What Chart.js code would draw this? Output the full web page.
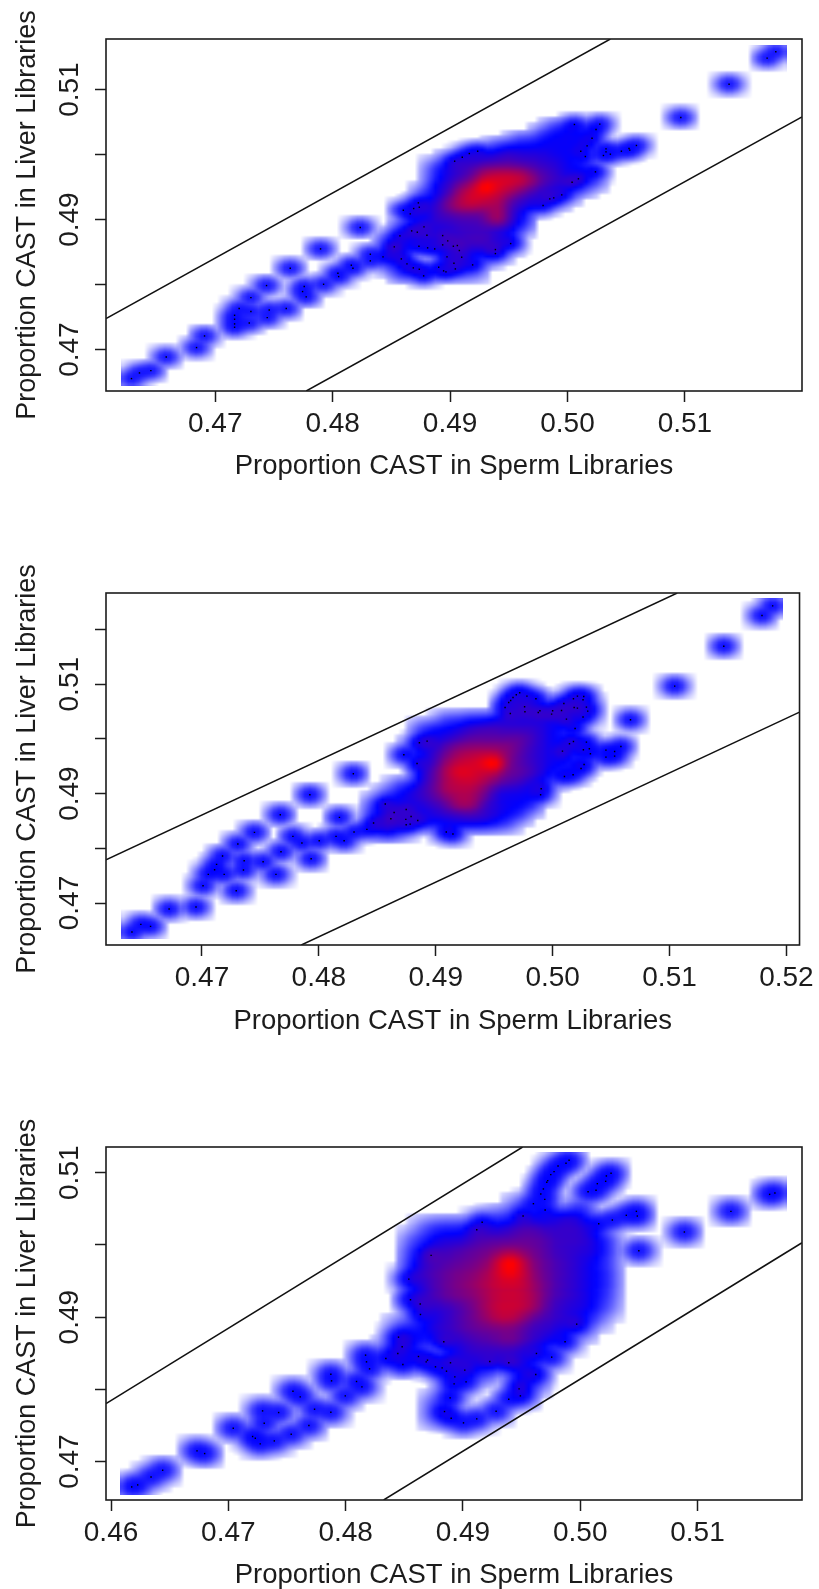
<!DOCTYPE html>
<html>
<head>
<meta charset="utf-8">
<title>Proportion CAST</title>
<script src="https://cdn.jsdelivr.net/npm/chart.js@4"></script>
<style>
html, body { margin: 0; padding: 0; background: #fff; }
#page { position: relative; width: 819px; height: 1589px; overflow: hidden; }
canvas { position: absolute; left: 0; }
</style>
</head>
<body>
<div id="page">
<canvas id="c1" width="819" height="483" style="top:0px"></canvas>
<canvas id="c2" width="819" height="493" style="top:545px"></canvas>
<canvas id="c3" width="819" height="492" style="top:1100px"></canvas>
</div>
<script>
// axis labels
const xTitle = 'Proportion CAST in Sperm Libraries';
const yTitle = 'Proportion CAST in Liver Libraries';

// --- panel 1 ---
const p1XRange = [0.4607, 0.51997];
const p1YRange = [0.46363, 0.51778];
const p1XTicks = [0.47, 0.48, 0.49, 0.50, 0.51];
const p1XLabels = ['0.47', '0.48', '0.49', '0.50', '0.51'];
const p1YTicks = [0.47, 0.48, 0.49, 0.50, 0.51];
const p1YLabels = ['0.47', '', '0.49', '', '0.51'];
const p1Bandwidth = [0.00047, 0.00058];
const p1UpperX = [0.4607, 0.50365];
const p1UpperY = [0.47477, 0.51778];
const p1LowerX = [0.47775, 0.51997];
const p1LowerY = [0.46363, 0.50578];
// the black outlier dots
const p1DotX = [0.46287,0.46355,0.46452,0.46583,0.46841,0.46909,0.47165,0.47165,0.47165,0.47165,0.47204,0.4729,0.47304,0.47304,0.47443,0.4746,0.47605,0.47437,0.47639,0.47897,0.48235,0.47744,0.47758,0.47775,0.47923,0.48045,0.48051,0.48159,0.48173,0.48321,0.48321,0.48429,
  0.48525,0.48573,0.48602,0.48661,0.4869,0.4873,0.48738,0.48673,0.48721,0.48778,0.48803,0.48585,0.48633,0.48687,0.48738,0.48775,0.48735,0.48809,0.48869,0.48937,0.48937,0.4898,0.49028,0.49062,0.49079,0.49099,0.48974,0.49033,0.49045,0.48903,0.48945,0.48965,0.49192,0.49386,0.49386,0.49516,
  0.49039,0.49104,0.49164,0.49235,0.49792,0.49849,0.49883,0.49951,0.50039,0.50093,0.50238,0.50113,0.50152,0.50167,0.50209,0.50243,0.50275,0.50059,0.50306,0.50328,0.50328,0.50365,0.50459,0.50524,0.5053,0.50587,0.50965,0.51376,0.517,0.51774];
const p1DotY = [0.46554,0.46641,0.46677,0.46887,0.47031,0.4721,0.47344,0.47395,0.47467,0.47528,0.47631,0.4741,0.47585,0.478,0.47492,0.4761,0.47631,0.47985,0.48252,0.48549,0.48878,0.47893,0.4797,0.47811,0.48005,0.48175,0.48123,0.48298,0.48252,0.48467,0.48365,0.48426,
  0.4858,0.48749,0.49144,0.49088,0.4917,0.49257,0.4919,0.48826,0.48806,0.48888,0.4876,0.48395,0.48318,0.48257,0.48236,0.48134,0.4859,0.48565,0.48549,0.48754,0.48611,0.48672,0.4859,0.48601,0.48524,0.48421,0.48426,0.48329,0.48241,0.48267,0.48211,0.48195,0.48303,0.48539,0.48477,0.48631,
  0.49898,0.4996,0.50016,0.50052,0.49216,0.49319,0.49334,0.4938,0.49575,0.49627,0.49734,0.50052,0.4997,0.50134,0.50252,0.50386,0.50468,0.50463,0.49986,0.50088,0.50042,0.50006,0.50052,0.50093,0.50068,0.5014,0.50571,0.51083,0.51484,0.51581];
// counts in the dense core (rows from top)
const p1BinX = [0.485,0.486,0.487,0.488,0.489,0.490,0.491,0.492,0.493,0.494,0.495,0.496,0.497,0.498,0.499,0.500,0.501,0.502,0.503];
const p1BinY = [0.504,0.503,0.502,0.501,0.500,0.499,0.498,0.497,0.496,0.495,0.494,0.493,0.492,0.491,0.490,0.489,0.488,0.487,0.486,0.485,0.484,0.483,0.482];
const p1Counts = [
  [0,0,0,0,0,0,0,0,0,0,0,0,0,0,.5,1,.5,.5,0],
  [0,0,0,0,0,0,0,0,0,0,0,0,0,.5,1,1,1,.5,0],
  [0,0,0,0,0,0,0,0,0,0,0,.5,.5,1,1,1,1,.5,0],
  [0,0,0,0,0,0,0,0,0,.5,1,1,1,1,1,1,.5,0,0],
  [0,0,0,0,0,0,0,.7,1,1.5,2,1.5,1.5,1.5,1,1,.5,0,0],
  [0,0,0,0,0,.5,1,1.5,2,2,2.5,2,2,1.5,1.5,1,.5,0,0],
  [0,0,0,0,.5,1.5,2,2.5,3,3.5,3.5,3,2.5,2,1.5,1,1,.5,0],
  [0,0,0,0,.7,1.5,2,3,8,9,9,8,4,2.5,2,1,1,.5,0],
  [0,0,0,0,.7,1.5,2.5,4,10,11,11,10,6,2.5,2,1.5,1,.7,0],
  [0,0,0,0,1.5,2,5,8,22,11,9,6,3,2,1.5,1,.7,0,0],
  [0,0,0,.5,1,2,7,11,11,9,6,3,2,1.5,.7,.5,0,0,0],
  [0,0,0,.7,1.5,4,8,11,9,8,3,2,1.5,1,.5,0,0,0,0],
  [0,0,.5,1,2,5,8,8,6,7,2.5,1.5,1,0,0,0,0,0,0],
  [0,0,.7,1,2,2.5,3,3,3.5,8,2,1,0,0,0,0,0,0,0],
  [0,0,.7,1,2,2,2.5,2.5,3,8,2,1,0,0,0,0,0,0,0],
  [0,.5,1,1,1.5,1.5,2,2,2.5,2,1.5,.5,0,0,0,0,0,0,0],
  [0,.7,1,1,1,1.5,2,2,2,1.5,1,0,0,0,0,0,0,0,0],
  [.7,1,1,1,1,1.5,2,2.5,2.5,1.5,1,0,0,0,0,0,0,0,0],
  [1.5,1,.5,.5,1,1,1.5,2,2,1.5,.5,0,0,0,0,0,0,0,0],
  [1.5,1,0,0,0,1,1,1,1,.7,0,0,0,0,0,0,0,0,0],
  [1,.5,0,0,0,1,1,.5,.5,0,0,0,0,0,0,0,0,0,0],
  [.5,.7,0,0,0,1,1,.5,0,0,0,0,0,0,0,0,0,0,0],
  [0,1,1,1,.5,.5,.5,.3,0,0,0,0,0,0,0,0,0,0,0]
];

// --- panel 2 ---
const p2XRange = [0.46179, 0.52112];
const p2YRange = [0.46233, 0.52667];
const p2XTicks = [0.47, 0.48, 0.49, 0.50, 0.51, 0.52];
const p2XLabels = ['0.47', '0.48', '0.49', '0.50', '0.51', '0.52'];
const p2YTicks = [0.47, 0.48, 0.49, 0.50, 0.51, 0.52];
const p2YLabels = ['0.47', '', '0.49', '', '0.51', ''];
const p2Bandwidth = [0.00047, 0.00074];
const p2UpperX = [0.46179, 0.51066];
const p2UpperY = [0.47791, 0.52667];
const p2LowerX = [0.4785, 0.52112];
const p2LowerY = [0.46233, 0.50489];
const p2DotX = [0.46401,0.46477,0.4656,0.46719,0.46949,0.47009,0.47054,0.47108,0.47125,0.47176,0.4719,0.47293,0.47307,0.47355,0.47361,0.47449,0.47523,0.47633,0.47676,0.4767,0.47778,0.47855,0.47923,0.47934,0.48003,0.48147,0.48176,0.48216,0.48295,0.48301,0.48411,0.48468,0.48568,0.48616,0.48644,0.48727,0.48747,0.48744,0.48789,0.48747,0.48781,0.48846,0.4884,0.4886,0.48926,0.4909,
  0.49147,0.49593,0.49624,0.49641,0.49661,0.49689,0.49718,0.4978,0.49857,0.49638,0.4976,0.49763,0.49877,0.49891,0.49991,0.5,0.50076,0.50096,0.50178,0.50212,0.50266,0.5026,0.50184,0.50212,0.50289,0.503,0.5026,0.50118,0.50192,0.50144,0.50178,0.50289,0.50084,0.50263,0.50314,0.50323,0.50269,0.50243,0.50175,0.50101,0.49902,0.49897,0.50456,0.5053,0.50584,0.50456,0.5053,0.50666,0.51044,0.51464,0.51791,0.51882];
const p2DotY = [0.4647,0.4661,0.46574,0.4689,0.46927,0.47317,0.47524,0.47609,0.47706,0.47859,0.47524,0.47225,0.48078,0.47603,0.47773,0.48291,0.47755,0.47524,0.47938,0.48614,0.48218,0.48096,0.48979,0.4781,0.48139,0.48218,0.48565,0.48139,0.49363,0.48297,0.48346,0.48462,0.48809,0.48541,0.48656,0.4971,0.48711,0.48529,0.48583,0.48431,0.48443,0.4851,0.49552,0.49929,0.4996,0.48297,
  0.48261,0.50575,0.50666,0.50703,0.50758,0.50806,0.50843,0.50782,0.50733,0.50465,0.50587,0.50496,0.50483,0.50514,0.50453,0.50514,0.5052,0.50648,0.50733,0.50782,0.50776,0.50715,0.50575,0.50563,0.50581,0.50508,0.504,0.50362,0.50191,0.49911,0.49954,0.49941,0.49777,0.49801,0.4982,0.49728,0.49533,0.4946,0.49345,0.49314,0.49089,0.48979,0.49795,0.49771,0.49862,0.49667,0.49686,0.5035,0.50965,0.51695,0.52256,0.52432];
const p2BinX = [0.485,0.486,0.487,0.488,0.489,0.490,0.491,0.492,0.493,0.494,0.495,0.496,0.497,0.498,0.499,0.500,0.501,0.502,0.503];
const p2BinY = [0.5075,0.506,0.5045,0.503,0.5015,0.500,0.4985,0.497,0.4955,0.494,0.4925,0.491,0.4895,0.488,0.4865,0.485,0.4835];
const p2Counts = [
  [0,0,0,0,0,0,0,0,0,0,0,0,.5,.5,0,0,0,.5,0],
  [0,0,0,0,0,0,0,0,0,0,0,.3,1,1,.5,.5,1,1,.3],
  [0,0,0,0,0,0,0,0,0,0,0,1,1,1,1,1,1,.7,.3],
  [0,0,0,0,0,0,.5,.5,1,1,1.5,1.5,1.5,1.5,1.5,1,1,.5,0],
  [0,0,0,0,.5,1,1,1.5,2,2.5,2.5,2,2,2,1.5,1,.5,0,0],
  [0,0,0,0,.7,1,1.5,2,3,3,3,3,3.5,2.5,1.5,1,.5,.5,0],
  [0,0,0,.3,1,1.5,3,4.5,5,5,5,5,3.5,2,1.5,1,.5,.5,0],
  [0,0,0,.3,1,2,4,7,8,9,9,5,3,2,1.5,1,1,.5,0],
  [0,0,0,0,1,2,6,9,10,12,22,4,3,2,1.5,1,1,.5,0],
  [0,0,0,0,1.5,3,8,13,11,9,8,3.5,3.5,2.5,1.5,.7,.3,0,0],
  [0,0,0,0,1.5,3,7,9,10,8,5,3,2.5,1.5,1,.3,0,0,0],
  [0,0,.5,1,2,3.5,8,8,8,5,2,1.5,1.5,1,.5,0,0,0,0],
  [0,.5,1,1.5,2,3,5,7,7,4,1.5,1,1,1,0,0,0,0,0],
  [.5,1,1,1,1.5,2,3,7,7,2,1.5,1,1,.7,0,0,0,0,0],
  [1,1,1,1,1,1.5,2,2,2.5,2,1.5,1,.7,0,0,0,0,0,0],
  [1,1.5,1,.5,1,1,1,1.5,1.5,1.5,1,.5,0,0,0,0,0,0,0],
  [1,2,.5,0,0,0,.5,0,0,0,0,0,0,0,0,0,0,0,0]
];

// --- panel 3 ---
const p3XRange = [0.45957, 0.51891];
const p3YRange = [0.46468, 0.51356];
const p3XTicks = [0.46, 0.47, 0.48, 0.49, 0.50, 0.51];
const p3XLabels = ['0.46', '0.47', '0.48', '0.49', '0.50', '0.51'];
const p3YTicks = [0.47, 0.48, 0.49, 0.50, 0.51];
const p3YLabels = ['0.47', '', '0.49', '', '0.51'];
const p3Bandwidth = [0.00054, 0.00066];
const p3UpperX = [0.45957, 0.49509];
const p3UpperY = [0.47804, 0.51356];
const p3LowerX = [0.48324, 0.51891];
const p3LowerY = [0.46468, 0.5003];
const p3DotX = [0.46176,0.46227,0.46341,0.4644,0.46733,0.46798,0.47042,0.47207,0.4723,0.47272,0.47392,0.47292,0.47306,0.47429,0.47536,0.47551,0.47613,0.47687,0.47735,0.47874,0.4788,0.47874,0.47997,0.48093,0.48139,0.4817,0.48178,0.48204,0.48343,0.48445,0.48451,0.48482,0.48488,0.48539,0.48553,0.48636,0.48638,0.48729,0.48621,0.48687,0.48698,0.48766,0.48823,0.4886,0.48837,0.48843,
  0.49016,0.49027,0.48894,0.48931,0.48925,0.48891,0.489,0.49005,0.49118,0.49283,0.49391,0.4949,0.49479,0.49621,0.49627,0.49757,0.49871,0.4997,0.49229,0.49391,0.49513,0.49601,0.49701,0.49698,0.49664,0.49686,0.49723,0.49715,0.49749,0.49777,0.49811,0.49879,0.49905,0.50067,0.50135,0.50146,0.50217,0.50223,0.50263,0.50158,0.50274,0.50393,0.50479,0.50487,0.505,0.50888,0.51285,0.51615,0.5166,0.49164,0.49118];
const p3DotY = [0.46649,0.46677,0.46787,0.4688,0.47148,0.47111,0.47462,0.47347,0.47323,0.47245,0.47286,0.47702,0.47531,0.47679,0.47379,0.47975,0.47896,0.47499,0.47725,0.4821,0.48118,0.47684,0.4791,0.48109,0.48035,0.48474,0.48381,0.48284,0.48428,0.48497,0.48723,0.48589,0.48344,0.49527,0.49241,0.49181,0.49037,0.49855,0.48455,0.48381,0.48404,0.48312,0.48298,0.48252,0.48659,0.47693,
  0.48266,0.48104,0.48368,0.48173,0.48076,0.47882,0.47601,0.47536,0.47591,0.47698,0.47864,0.4791,0.48007,0.48206,0.48497,0.48446,0.48659,0.48903,0.48386,0.48368,0.504,0.50571,0.50483,0.50631,0.50705,0.50775,0.5089,0.50867,0.50973,0.51015,0.51093,0.5113,0.51172,0.50737,0.50756,0.50848,0.50881,0.50955,0.50992,0.50294,0.50345,0.5041,0.50465,0.504,0.4992,0.50179,0.50465,0.507,0.50719,0.50313,0.50211];
const p3BinX = [0.484,0.485,0.486,0.487,0.488,0.489,0.490,0.491,0.492,0.493,0.494,0.495,0.496,0.497,0.498,0.499,0.500,0.501,0.502];
const p3BinY = [0.505,0.5035,0.502,0.5005,0.499,0.4975,0.496,0.4945,0.493,0.4915,0.490,0.4885,0.487,0.4855,0.484,0.4825,0.481,0.4795,0.478,0.4765];
const p3Counts = [
  [0,0,0,0,0,0,0,0,0,0,0,.5,0,0,0,0,.7,0,0],
  [0,0,0,0,0,0,0,0,0,.5,.5,1,1,1,1.5,2,1.5,0,0],
  [0,0,0,.3,.7,.7,.7,1,1.5,1.5,2,3,3,2,2,2,2,1,0],
  [0,0,.3,.7,1.5,1.5,1.5,2.5,3,3,3,3.5,3.5,3,2,2,2,1.5,.7],
  [0,0,.7,1.5,2,2.5,3,3.5,4,5,7,5,4,3,2,2,1.5,1.5,.7],
  [0,0,1,2,2.5,3,3.5,4,5,9,22,9,4.5,3.5,2.5,2,1.5,1,.5],
  [0,0,1.5,2.5,3,4,4.5,5,7,10,16,10,5,3.5,2.5,2,1.5,1,.7],
  [0,0,1,2,3,4,5,6,8,10,10,10,6,4,2.5,2,1.5,1,.7],
  [0,0,1,2,3,4,4.5,5,7,9,10,9,7,3.5,2.5,2,1.5,1,.5],
  [0,0,.7,1.5,2,2,3,4,7,10,10,10,7,3,2,1.5,1.5,1,.3],
  [0,0,0,.7,1.5,2,3,4,6,9,10,6,3,2.5,2,1.5,1,.5,0],
  [0,.5,.7,1,2,2,3,3.5,4,4,4.5,3,2,2,1.5,1,.5,0,0],
  [0,1.5,1,.7,1,1.5,2,2.5,3,3.5,5,3,2,1.5,.7,0,0,0,0],
  [.7,.7,.3,0,0,.7,1.5,2,2,2,2,1.5,.7,.3,0,0,0,0,0],
  [.7,.5,.5,.5,.5,1,1.5,1.5,1,1,1.5,1.5,.5,0,0,0,0,0,0],
  [0,0,0,0,0,.3,.7,.7,.5,0,0,1.5,.7,0,0,0,0,0,0],
  [0,0,0,0,0,.5,0,0,0,0,0,1.5,.5,0,0,0,0,0,0],
  [0,0,0,0,0,.5,0,0,0,0,0,1,0,0,0,0,0,0,0],
  [0,0,0,0,.5,0,0,0,0,0,0,0,0,0,0,0,0,0,0],
  [0,0,0,0,.7,.5,0,0,0,0,0,0,0,0,0,0,0,0,0]
];

const ink = '#1c1c1c';
const fontName = '"Liberation Sans", Arial, sans-serif';

// white -> blue -> red, same ramp as smoothScatter
function rampColor(v) {
    if (v < 0.5) {
        let w = 255 * (1 - 2 * v);
        return [w, w, 255];
    }
    return [255 * (2 * v - 1), 0, 255 * (2 - 2 * v)];
}

function addKernel(grid, n, box, p, sx, sy, widen, weight) {
    let i0 = Math.max(0, Math.ceil((p[0] - 3.4 * sx - box.left) / box.dx));
    let i1 = Math.min(n - 1, Math.floor((p[0] + 3.4 * sx - box.left) / box.dx));
    let j0 = Math.max(0, Math.ceil((p[1] - 3.4 * sy - box.top) / box.dy));
    let j1 = Math.min(n - 1, Math.floor((p[1] + 3.4 * sy - box.top) / box.dy));
    for (let j = j0; j <= j1; j++) {
        let b = (box.top + j * box.dy - p[1]) / (sy * widen);
        for (let i = i0; i <= i1; i++) {
            let a = (box.left + i * box.dx - p[0]) / (sx * widen);
            grid[j * n + i] += weight * Math.exp(-0.5 * (a * a + b * b));
        }
    }
}

// kernel density from the dots and the core bins, power 0.25 like smoothScatter
const densityPlugin = {
    id: 'density',
    beforeDatasetsDraw(chart) {
        let bw = chart.options.plugins.density.bandwidth;
        let xs = chart.scales.x, ys = chart.scales.y;
        let sx = Math.abs(xs.getPixelForValue(0.5 + bw[0]) - xs.getPixelForValue(0.5));
        let sy = Math.abs(ys.getPixelForValue(0.5 + bw[1]) - ys.getPixelForValue(0.5));
        let dots = chart.data.datasets[1].data.map(d => [xs.getPixelForValue(d.x), ys.getPixelForValue(d.y)]);
        let bins = chart.data.datasets[0].data.map(d => [xs.getPixelForValue(d.x), ys.getPixelForValue(d.y), d.w]);

        let left = Infinity, right = -Infinity, top = Infinity, bottom = -Infinity;
        dots.forEach(p => {
            left = Math.min(left, p[0]); right = Math.max(right, p[0]);
            top = Math.min(top, p[1]); bottom = Math.max(bottom, p[1]);
        });
        left -= 1.5 * sx; right += 1.5 * sx; top -= 1.5 * sy; bottom += 1.5 * sy;

        let n = 128;
        let box = { left: left, top: top, dx: (right - left) / (n - 1), dy: (bottom - top) / (n - 1) };
        let dotGrid = new Float64Array(n * n), binGrid = new Float64Array(n * n);
        dots.forEach(p => addKernel(dotGrid, n, box, p, sx, sy, 1, 1));
        // bins stand for many points, so they get a wider kernel
        bins.forEach(p => addKernel(binGrid, n, box, p, sx, sy, 1.25, p[2] * 0.45));

        // outlier clusters stay blue in the picture, so the dot part saturates
        let maxD = 0;
        let total = new Float64Array(n * n);
        for (let k = 0; k < n * n; k++) {
            total[k] = binGrid[k] + 1 - Math.exp(-1.2 * dotGrid[k]);
            if (total[k] > maxD) maxD = total[k];
        }

        let off = document.createElement('canvas');
        off.width = n; off.height = n;
        let octx = off.getContext('2d');
        let img = octx.createImageData(n, n);
        for (let k = 0; k < n * n; k++) {
            let c = rampColor(Math.pow(total[k] / maxD, 0.25));
            img.data[k * 4] = c[0];
            img.data[k * 4 + 1] = c[1];
            img.data[k * 4 + 2] = c[2];
            img.data[k * 4 + 3] = 255;
        }
        octx.putImageData(img, 0, 0);

        let ctx = chart.ctx;
        ctx.save();
        ctx.imageSmoothingEnabled = true;
        ctx.imageSmoothingQuality = 'medium';
        ctx.drawImage(off, left - box.dx / 2, top - box.dy / 2, right - left + box.dx, bottom - top + box.dy);
        ctx.restore();
    },
    afterDatasetsDraw(chart) {
        // box() of the base plot
        let a = chart.chartArea, ctx = chart.ctx;
        ctx.save();
        ctx.strokeStyle = ink;
        ctx.lineWidth = 1.6;
        ctx.strokeRect(a.left, a.top, a.right - a.left, a.bottom - a.top);
        ctx.restore();
    }
};

function pairs(xv, yv) {
    return xv.map((x, i) => ({ x: x, y: yv[i] }));
}

function binPoints(binX, binY, counts) {
    let out = [];
    binY.forEach((y, r) => binX.forEach((x, c) => {
        if (counts[r][c] > 0) out.push({ x: x, y: y, w: counts[r][c] });
    }));
    return out;
}

function draw_panel(id, top, bottom, p) {
    let ctx = document.getElementById(id).getContext('2d');
    let h = ctx.canvas.height;
    return new Chart(ctx, {
        type: 'scatter',
        data: {
            datasets: [
                { label: 'core', data: binPoints(p.binX, p.binY, p.counts), pointRadius: 0, showLine: false },
                { label: 'points', data: pairs(p.dotX, p.dotY), pointStyle: 'rect', pointRadius: 1, borderWidth: 0, backgroundColor: '#000', showLine: false },
                { label: 'upper', data: pairs(p.upperX, p.upperY), showLine: true, pointRadius: 0, borderColor: '#111', borderWidth: 1.5 },
                { label: 'lower', data: pairs(p.lowerX, p.lowerY), showLine: true, pointRadius: 0, borderColor: '#111', borderWidth: 1.5 }
            ]
        },
        options: {
            responsive: false,
            animation: false,
            events: [],
            layout: { padding: { top: top, right: 17, left: 0, bottom: 0 } },
            plugins: {
                legend: { display: false },
                tooltip: { enabled: false },
                density: { bandwidth: p.bandwidth }
            },
            scales: {
                x: {
                    type: 'linear',
                    min: p.xRange[0],
                    max: p.xRange[1],
                    afterFit: s => { s.height = h - bottom; },
                    afterBuildTicks: s => { s.ticks = p.xTicks.map(v => ({ value: v })); },
                    border: { display: false },
                    grid: { drawOnChartArea: false, drawTicks: true, tickLength: 11, tickWidth: 1.5, tickColor: ink },
                    ticks: {
                        autoSkip: false, maxRotation: 0, padding: 5, color: ink,
                        font: { family: fontName, size: 28 },
                        callback: (v, i) => p.xLabels[i]
                    },
                    title: { display: true, text: xTitle, color: ink, font: { family: fontName, size: 27.5 }, padding: { top: 0, bottom: 0 } }
                },
                y: {
                    type: 'linear',
                    min: p.yRange[0],
                    max: p.yRange[1],
                    afterFit: s => { s.width = 106; },
                    afterBuildTicks: s => { s.ticks = p.yTicks.map(v => ({ value: v })); },
                    border: { display: false },
                    grid: { drawOnChartArea: false, drawTicks: true, tickLength: 11, tickWidth: 1.5, tickColor: ink },
                    ticks: {
                        autoSkip: false, minRotation: 90, maxRotation: 90, crossAlign: 'center', padding: -3, color: ink,
                        font: { family: fontName, size: 28 },
                        callback: (v, i) => p.yLabels[i]
                    },
                    title: { display: true, text: yTitle, color: ink, font: { family: fontName, size: 27 }, padding: { top: 11, bottom: 0 } }
                }
            }
        },
        plugins: [densityPlugin]
    });
}

draw_panel('c1', 39, 391, { xRange: p1XRange, yRange: p1YRange, xTicks: p1XTicks, xLabels: p1XLabels, yTicks: p1YTicks, yLabels: p1YLabels, bandwidth: p1Bandwidth, upperX: p1UpperX, upperY: p1UpperY, lowerX: p1LowerX, lowerY: p1LowerY, dotX: p1DotX, dotY: p1DotY, binX: p1BinX, binY: p1BinY, counts: p1Counts });
draw_panel('c2', 48, 400, { xRange: p2XRange, yRange: p2YRange, xTicks: p2XTicks, xLabels: p2XLabels, yTicks: p2YTicks, yLabels: p2YLabels, bandwidth: p2Bandwidth, upperX: p2UpperX, upperY: p2UpperY, lowerX: p2LowerX, lowerY: p2LowerY, dotX: p2DotX, dotY: p2DotY, binX: p2BinX, binY: p2BinY, counts: p2Counts });
draw_panel('c3', 47, 400, { xRange: p3XRange, yRange: p3YRange, xTicks: p3XTicks, xLabels: p3XLabels, yTicks: p3YTicks, yLabels: p3YLabels, bandwidth: p3Bandwidth, upperX: p3UpperX, upperY: p3UpperY, lowerX: p3LowerX, lowerY: p3LowerY, dotX: p3DotX, dotY: p3DotY, binX: p3BinX, binY: p3BinY, counts: p3Counts });
</script>
</body>
</html>
